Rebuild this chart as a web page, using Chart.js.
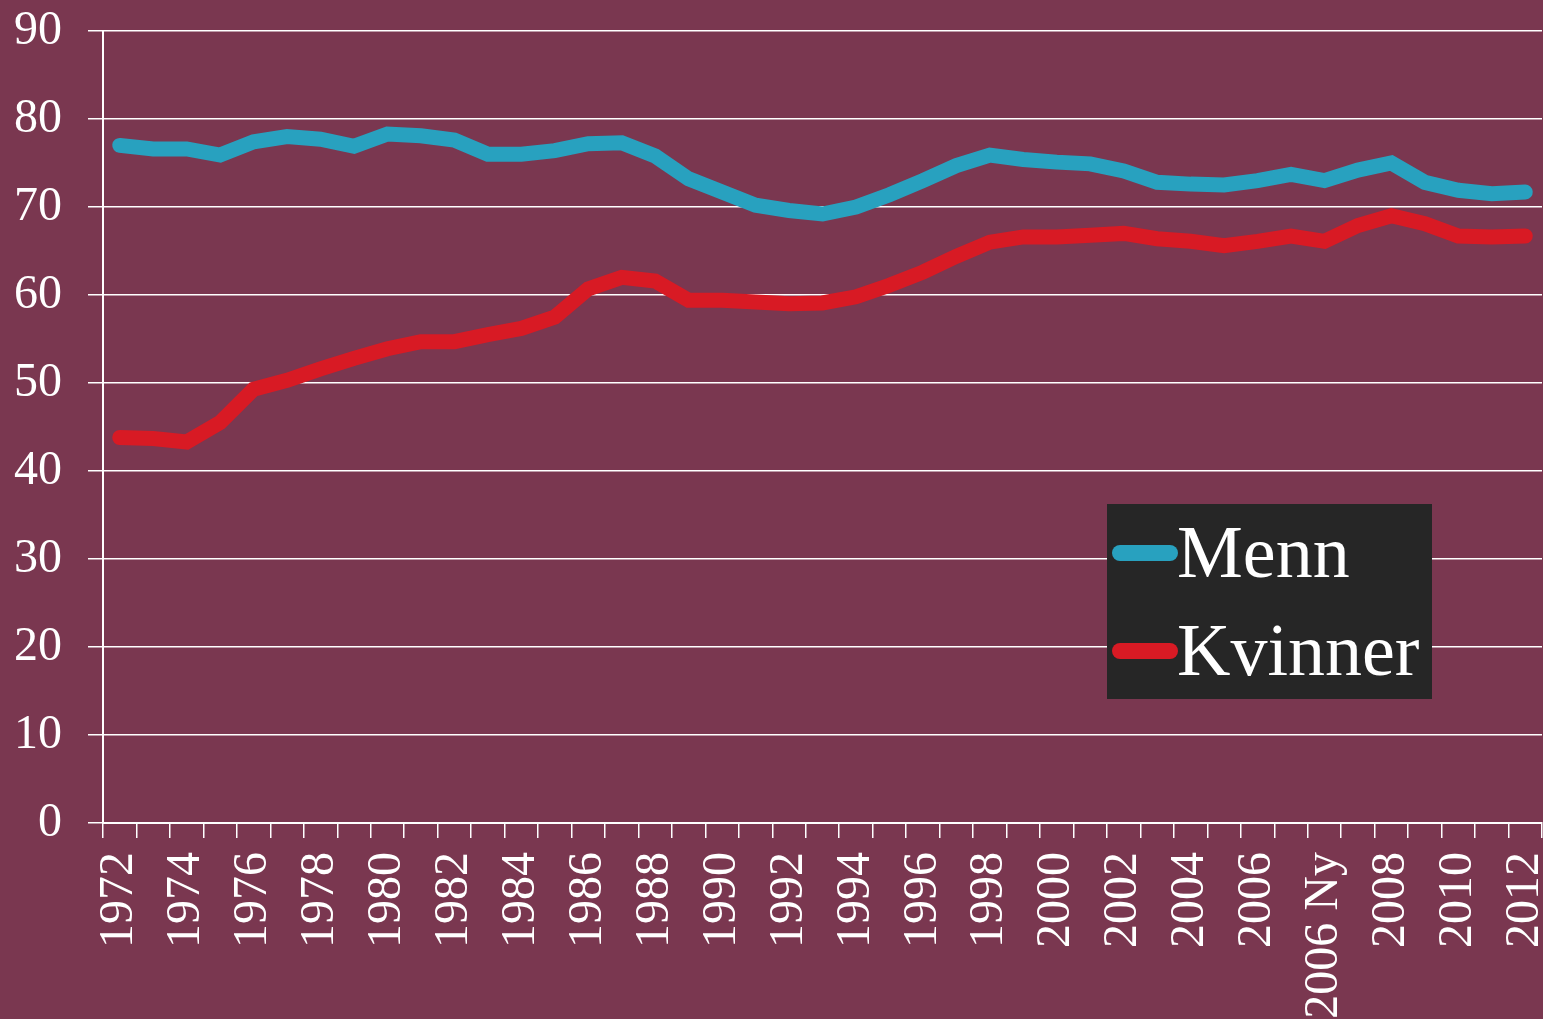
<!DOCTYPE html>
<html>
<head>
<meta charset="utf-8">
<script src="https://cdn.jsdelivr.net/npm/chart.js@4"></script>
<style>
  html, body { margin: 0; padding: 0; background: #7A3750; }
  #wrap { position: relative; width: 1543px; height: 1019px; }
  #legend {
    position: absolute; left: 1107px; top: 504px; width: 325px; height: 195px;
    background: #262626; font-family: "Liberation Serif", serif; color: #fff;
  }
  .item { position: absolute; left: 5px; height: 98px; white-space: nowrap; }
  .item .swatch {
    position: absolute; left: 0; width: 66px; height: 16px; border-radius: 8px;
  }
  .item .txt { position: absolute; left: 65px; font-size: 74px; line-height: 74px; }
</style>
</head>
<body>
<div id="wrap">
  <canvas id="chart" width="1543" height="1019"></canvas>
  <div id="legend"></div>
</div>
<script>
const years = ['1972','1973','1974','1975','1976','1977','1978','1979','1980','1981',
  '1982','1983','1984','1985','1986','1987','1988','1989','1990','1991','1992','1993',
  '1994','1995','1996','1997','1998','1999','2000','2001','2002','2003','2004','2005',
  '2006','2007','2006 Ny','2007','2008','2009','2010','2011','2012'];

const menn = [77.0, 76.6, 76.6, 75.9, 77.4, 78.0, 77.7, 76.9, 78.3, 78.1,
  77.6, 76.0, 76.0, 76.4, 77.2, 77.3, 75.8, 73.2, 71.7, 70.2, 69.6, 69.2,
  70.0, 71.4, 73.0, 74.7, 75.9, 75.4, 75.1, 74.9, 74.1, 72.8, 72.6, 72.5,
  73.0, 73.7, 73.0, 74.2, 75.0, 72.8, 71.9, 71.5, 71.7];

const kvinner = [43.8, 43.7, 43.3, 45.5, 49.3, 50.3, 51.6, 52.8, 53.9, 54.7,
  54.7, 55.5, 56.2, 57.5, 60.7, 62.0, 61.6, 59.4, 59.4, 59.2, 59.0, 59.1,
  59.8, 61.1, 62.6, 64.4, 66.0, 66.6, 66.6, 66.8, 67.0, 66.4, 66.1, 65.6,
  66.1, 66.7, 66.1, 67.9, 69.0, 68.1, 66.7, 66.6, 66.7];

const series = [
  { label: 'Menn', data: menn, color: '#28A1BF' },
  { label: 'Kvinner', data: kvinner, color: '#D81A24' }
];

const font = { family: '"Liberation Serif", serif', size: 48 };

const chart = new Chart(document.getElementById('chart'), {
  type: 'line',
  data: {
    labels: years,
    datasets: series.map(s => ({
      label: s.label,
      data: s.data,
      borderColor: s.color,
      backgroundColor: s.color,
      borderWidth: 15,
      borderCapStyle: 'round',
      pointRadius: 0,
      tension: 0,
      fill: false
    }))
  },
  options: {
    responsive: false,
    animation: false,
    layout: { padding: { top: 31, right: 1, left: 0, bottom: 0 } },
    plugins: { legend: { display: false }, tooltip: { enabled: false } },
    scales: {
      x: {
        offset: true,
        afterFit: s => { s.height = 196; s.paddingLeft = 0; s.paddingRight = 0; },
        grid: { offset: true, drawOnChartArea: false, color: '#fff', lineWidth: 1.5, tickLength: 15 },
        border: { color: '#fff', width: 2 },
        ticks: {
          color: '#fff', font: font, autoSkip: false, minRotation: 90, maxRotation: 90, padding: 14,
          callback: function (v, i) { return i % 2 === 0 ? this.getLabelForValue(v) : ''; }
        }
      },
      y: {
        min: 0, max: 90,
        afterFit: s => { s.width = 103; s.paddingTop = 0; s.paddingBottom = 0; },
        grid: { color: '#fff', lineWidth: 1.5, tickLength: 15 },
        border: { color: '#fff', width: 2 },
        ticks: { stepSize: 10, color: '#fff', font: font, padding: 26 }
      }
    }
  }
});

// legend box
const legend = document.getElementById('legend');
series.forEach((s, i) => {
  const item = document.createElement('div');
  item.className = 'item';
  item.style.top = (i * 98) + 'px';
  item.innerHTML = '<span class="swatch" style="top:41px;background:' + s.color + '"></span>' +
    '<span class="txt" style="top:11px">' + s.label + '</span>';
  legend.appendChild(item);
});
</script>
</body>
</html>
